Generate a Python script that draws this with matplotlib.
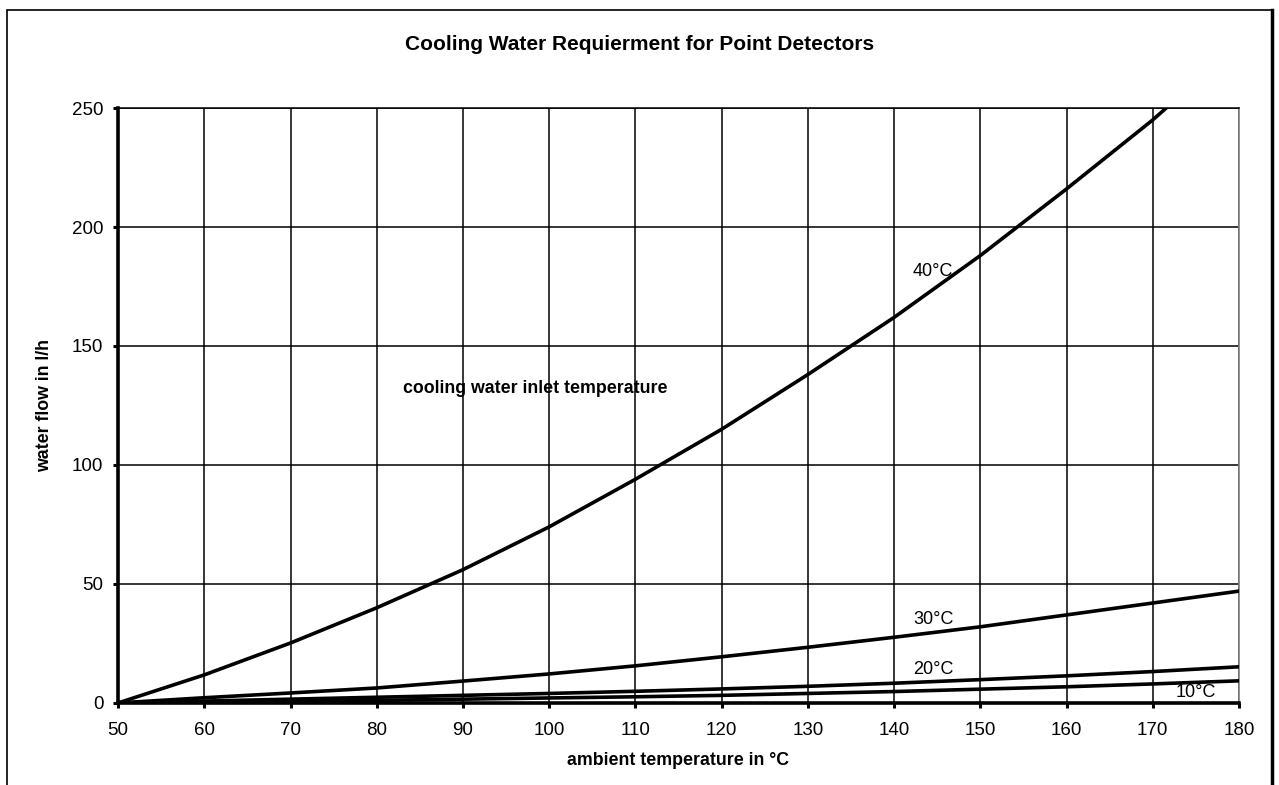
import matplotlib
matplotlib.use("Agg")
import matplotlib.pyplot as plt
from matplotlib.patches import Rectangle

plt.rcParams['font.family'] = ['Liberation Sans', 'DejaVu Sans']

# ambient temperature (deg C)
ambient = [50, 60, 70, 80, 90, 100, 110, 120, 130, 140, 150, 160, 170, 180]

# water flow in l/h for each cooling water inlet temperature
flow_40 = [0, 11.8, 25.2, 40, 56, 74, 94, 115, 138, 162, 188, 216, 245, 277]
flow_30 = [0, 2.2, 4.2, 6.3, 9.2, 12.2, 15.6, 19.4, 23.4, 27.6, 32, 37, 42, 47]
flow_20 = [0, 0.8, 1.6, 2.4, 3.2, 4.0, 4.9, 5.9, 7.0, 8.3, 9.8, 11.4, 13.2, 15.2]
flow_10 = [0, 0.3, 0.7, 1.1, 1.6, 2.1, 2.6, 3.2, 4.0, 4.8, 5.8, 6.8, 8.0, 9.3]

series = [flow_40, flow_30, flow_20, flow_10]
labels = ['40°C', '30°C', '20°C', '10°C']
label_pos = [(142.2, 181.5), (142.2, 34.9), (142.2, 13.9), (172.6, 4.6)]

x_ticks = list(range(50, 181, 10))
y_ticks = [0, 50, 100, 150, 200, 250]

fig = plt.figure(figsize=(12.79, 7.85), dpi=100)
ax = fig.add_axes([0.0923, 0.1045, 0.8764, 0.7579])

for ys in series:
    ax.plot(ambient, ys, color='black', linewidth=2.6, zorder=3, clip_on=True)

for lab, (lx, ly) in zip(labels, label_pos):
    ax.text(lx, ly, lab, fontsize=13, ha='left', va='center', zorder=4)

ax.text(98.4, 132, 'cooling water inlet temperature', fontsize=12.8,
        fontweight='bold', ha='center', va='center', zorder=4)

ax.set_xlim(50, 180)
ax.set_ylim(0, 250)
ax.set_xticks(x_ticks)
ax.set_yticks(y_ticks)
ax.grid(True, color='black', linewidth=1.1)
ax.set_axisbelow(True)

ax.spines['left'].set_linewidth(2.6)
ax.spines['bottom'].set_linewidth(2.6)
ax.spines['top'].set_linewidth(1.1)
ax.spines['right'].set_color('#808080')
ax.spines['right'].set_linewidth(1.2)
ax.tick_params(direction='out', length=3.5, width=2.2, labelsize=13.5)
ax.tick_params(axis='x', pad=10.5)
ax.tick_params(axis='y', pad=7)

ax.set_xlabel('ambient temperature in °C', fontsize=12.8, fontweight='bold')
ax.set_ylabel('water flow in l/h', fontsize=12.8, fontweight='bold')
ax.xaxis.set_label_coords(0.5, -0.097)
ax.yaxis.set_label_coords(-0.066, 0.5)
ax.xaxis.label.set_va('center')
ax.yaxis.label.set_va('center')

fig.text(0.5, 1 - 45 / 785, 'Cooling Water Requierment for Point Detectors',
         fontsize=15, fontweight='bold', ha='center', va='center')

# outer chart frame
fig.patches.append(Rectangle((7 / 1279, -0.05), (1265 / 1279), 1 - 10 / 785 + 0.05,
                             transform=fig.transFigure, fill=False,
                             edgecolor='black', linewidth=1.2))
fig.lines.append(plt.Line2D([1271.5 / 1279, 1271.5 / 1279], [0, 1 - 10 / 785],
                            transform=fig.transFigure, color='black', linewidth=2.5))

fig.savefig('out.png', dpi=100)
